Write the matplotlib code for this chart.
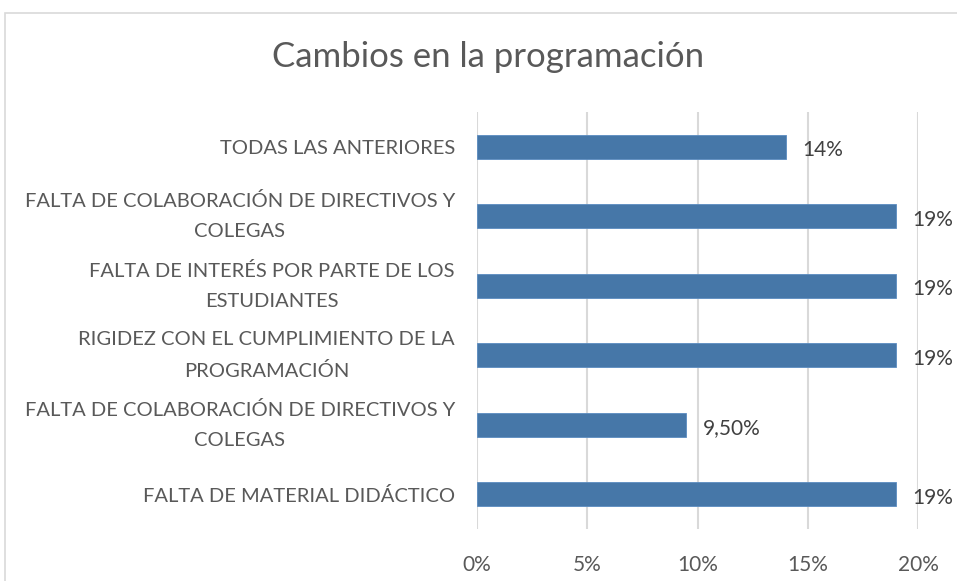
import matplotlib
matplotlib.use("Agg")
import matplotlib.pyplot as plt
from matplotlib.patches import Rectangle

plt.rcParams['font.family'] = ['Lato', 'DejaVu Sans']

categories = [
    "FALTA DE MATERIAL DIDÁCTICO",
    "FALTA DE COLABORACIÓN DE DIRECTIVOS Y\nCOLEGAS",
    "RIGIDEZ CON EL CUMPLIMIENTO DE LA\nPROGRAMACIÓN",
    "FALTA DE INTERÉS POR PARTE DE LOS\nESTUDIANTES",
    "FALTA DE COLABORACIÓN DE DIRECTIVOS Y\nCOLEGAS",
    "TODAS LAS ANTERIORES",
]
values = [19, 9.5, 19, 19, 19, 14]
value_labels = ["19%", "9,50%", "19%", "19%", "19%", "14%"]
xticks = [0, 5, 10, 15, 20]
xtick_labels = ["0%", "5%", "10%", "15%", "20%"]

fig = plt.figure(figsize=(9.57, 5.81), dpi=100)
fig.patches.append(Rectangle((5/957, -0.01), 1.0, 1 - 13/581 + 0.01, transform=fig.transFigure,
                             fill=False, edgecolor="#d9d9d9", linewidth=1.2))
ax = fig.add_axes([477/957, 1 - 529/581, (918 - 477)/957, (529 - 112)/581])

y = list(range(len(categories)))
ax.barh(y, values, height=0.35, color="#4677a8", edgecolor="#5b8cc0", linewidth=0.6, zorder=3)
for yi, v, lab in zip(y, values, value_labels):
    ax.text(v + 0.75, yi - 0.05, lab, va="center", ha="left", fontsize=15, color="#404040")

ax.set_xlim(0, 20)
ax.set_ylim(-0.5, len(categories) - 0.5)
ax.set_xticks(xticks)
ax.set_xticklabels(xtick_labels, fontsize=15, color="#595959")
ax.set_yticks(y)
ax.set_yticklabels(categories, fontsize=14.5, color="#595959", ha="right",
                   multialignment="center", linespacing=1.9)
for t in ax.get_yticklabels():
    if "\n" in t.get_text():
        t.set_va("center")
ax.tick_params(axis="y", length=0, pad=16)
ax.tick_params(axis="x", length=0, pad=19)
ax.xaxis.grid(True, color="#d9d9d9", linewidth=1.5, zorder=0)
for s in ax.spines.values():
    s.set_visible(False)

fig.text(488/957, 1 - 57/581, "Cambios en la programación", ha="center", va="center",
         fontsize=25, color="#595959")

fig.savefig("out.png", dpi=100)
